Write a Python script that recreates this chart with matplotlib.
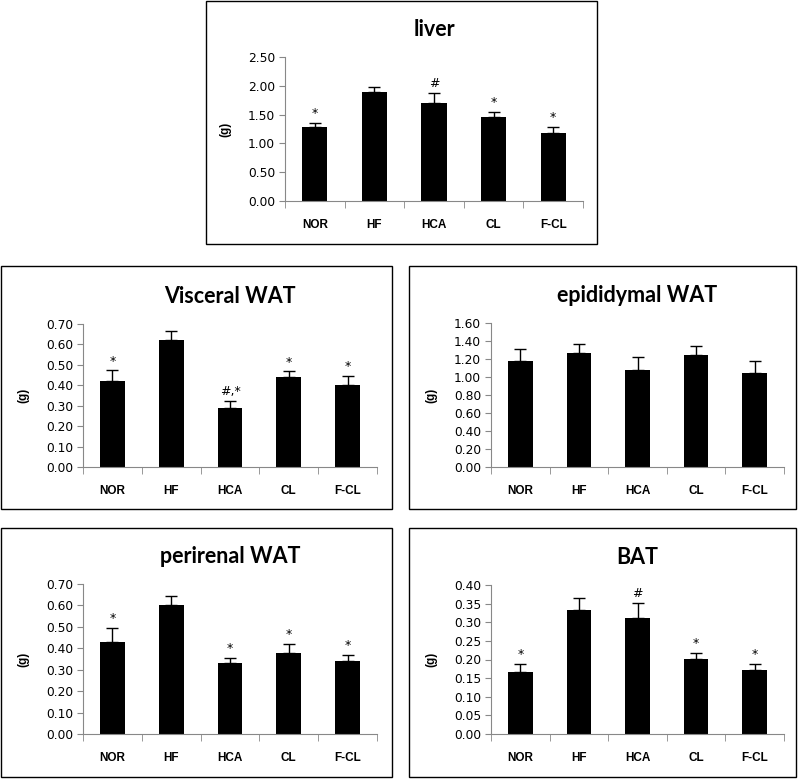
import matplotlib
matplotlib.use("Agg")
import matplotlib.pyplot as plt
from matplotlib.patches import Rectangle

groups = ["NOR", "HF", "HCA", "CL", "F-CL"]

liver = [1.28, 1.89, 1.70, 1.46, 1.18]
liver_err = [0.07, 0.09, 0.17, 0.08, 0.11]
liver_sig = ["*", "", "#", "*", "*"]

visceral = [0.42, 0.62, 0.29, 0.44, 0.40]
visceral_err = [0.053, 0.044, 0.034, 0.028, 0.047]
visceral_sig = ["*", "", "#,*", "*", "*"]

epididymal = [1.18, 1.27, 1.08, 1.24, 1.05]
epididymal_err = [0.13, 0.10, 0.14, 0.11, 0.13]
epididymal_sig = ["", "", "", "", ""]

perirenal = [0.43, 0.60, 0.33, 0.38, 0.34]
perirenal_err = [0.065, 0.046, 0.024, 0.042, 0.031]
perirenal_sig = ["*", "", "*", "*", "*"]

bat = [0.167, 0.333, 0.312, 0.201, 0.172]
bat_err = [0.021, 0.032, 0.039, 0.016, 0.016]
bat_sig = ["*", "", "#", "*", "*"]

W, H = 800, 780
fig = plt.figure(figsize=(W / 100, H / 100), dpi=100)

def px(x0, y0, x1, y1):
    # pixel box (top-left origin) -> figure fraction
    return [x0 / W, 1 - y1 / H, (x1 - x0) / W, (y1 - y0) / H]

def panel(frame, axbox, title, vals, errs, sig, ymax, step, ystep_fmt="{:.2f}"):
    fig.patches.append(Rectangle((frame[0], frame[1]), frame[2], frame[3],
                                 transform=fig.transFigure, fill=False,
                                 edgecolor="black", linewidth=1.0))
    ax = fig.add_axes(axbox)
    x = range(len(groups))
    ax.bar(x, vals, width=0.42, color="black", zorder=2)
    ax.errorbar(x, vals, yerr=[[0] * len(vals), errs], fmt="none",
                ecolor="black", elinewidth=1.0, capsize=4, capthick=1.0, zorder=3)
    for i, s in enumerate(sig):
        if s:
            ax.text(i, vals[i] + errs[i] + ymax * 0.02, s, ha="center", va="bottom",
                    fontsize=9, fontfamily="DejaVu Sans")
    ax.set_xlim(-0.5, len(groups) - 0.5)
    ax.set_ylim(0, ymax)
    n = int(round(ymax / step))
    ticks = [i * step for i in range(n + 1)]
    ax.set_yticks(ticks)
    ax.set_yticklabels([ystep_fmt.format(t) for t in ticks], fontsize=8.8,
                       fontfamily="DejaVu Sans")
    ax.set_xticks(list(x))
    ax.set_xticklabels(groups, fontsize=8.5, fontweight="bold",
                       fontfamily="Liberation Sans")
    ax.set_xticks([i - 0.5 for i in range(len(groups) + 1)], minor=True)
    ax.tick_params(axis="x", which="major", length=0, pad=13)
    ax.tick_params(axis="x", which="minor", length=5, color="#888888", direction="out")
    ax.tick_params(axis="y", length=4, color="#888888", direction="out", pad=3)
    for side in ["top", "right"]:
        ax.spines[side].set_visible(False)
    for side in ["left", "bottom"]:
        ax.spines[side].set_color("#888888")
    ax.set_ylabel("(g)", fontsize=8.5, fontweight="bold", fontfamily="Liberation Sans",
                  labelpad=12)
    ax.set_title(title, fontsize=15.5, fontweight="bold", fontfamily="Lato", pad=15)
    return ax

panel(px(206, 1, 597, 244), px(285, 57, 583, 201), "liver",
      liver, liver_err, liver_sig, 2.5, 0.5)
panel(px(1, 266, 392, 509), px(83, 324, 377, 467), "Visceral WAT",
      visceral, visceral_err, visceral_sig, 0.7, 0.1)
panel(px(409, 266, 796, 509), px(491, 323, 784, 467), "epididymal WAT",
      epididymal, epididymal_err, epididymal_sig, 1.6, 0.2)
panel(px(1, 528, 392, 777), px(83, 584, 377, 734), "perirenal WAT",
      perirenal, perirenal_err, perirenal_sig, 0.7, 0.1)
panel(px(409, 528, 796, 777), px(491, 585, 784, 734), "BAT",
      bat, bat_err, bat_sig, 0.4, 0.05)

fig.savefig("out.png", dpi=100)
